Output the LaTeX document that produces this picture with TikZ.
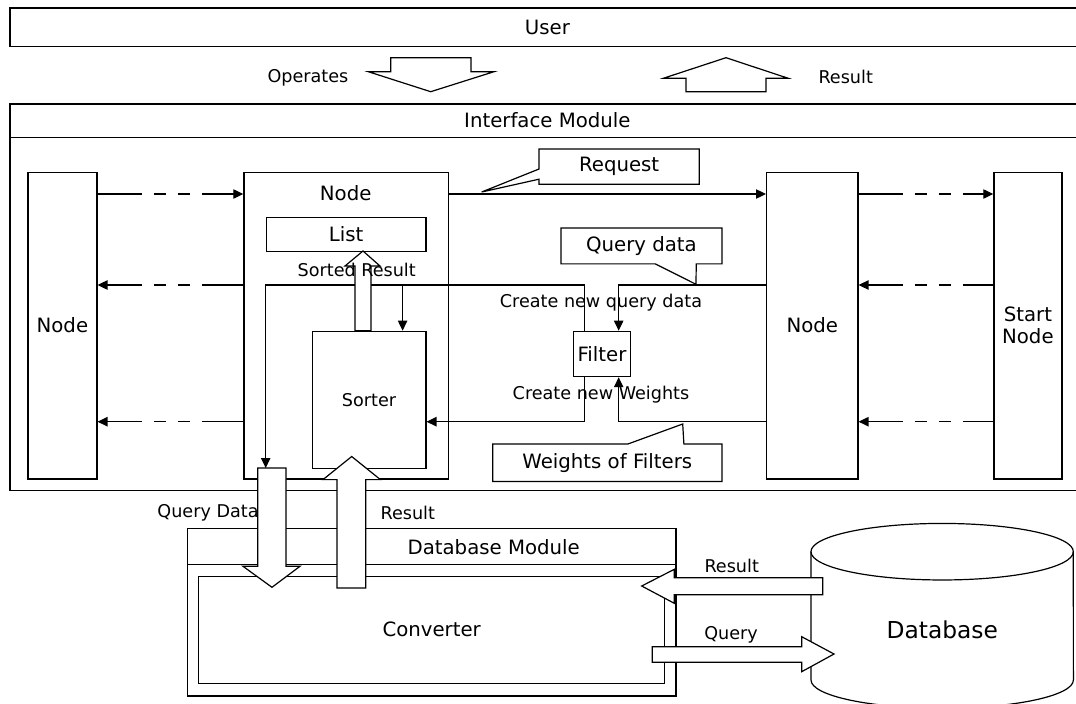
\documentclass[tikz,border=0pt]{standalone}
\usepackage{fontspec}
\setmainfont{DejaVu Sans}
\usetikzlibrary{calc,arrows.meta}
\newcommand{\boxtxt}{\fontsize{14.8}{16.7}\selectfont}
\newcommand{\linktxt}{\fontsize{13.2}{15.8}\selectfont}
\newcommand{\dbtxt}{\fontsize{17.5}{21}\selectfont}
\tikzstyle{rect} = [rectangle, draw=black, inner sep=0pt, text centered, anchor=north west, font=\boxtxt]
\tikzstyle{lbl} = [inner sep=0pt, font=\linktxt]
\tikzstyle{hollow} = [draw=black, fill=white]
\tikzstyle{link} = [-{Triangle[length=7.5pt,width=7pt]}]
\tikzstyle{dashR} = [link, dash pattern=on 33pt off 9pt on 9pt off 9pt on 9pt off 9pt on 300pt]
\tikzstyle{dashL} = [{Triangle[length=7.5pt,width=7pt]}-, dash pattern=on 26pt off 9pt on 9pt off 9pt on 9pt off 9pt on 300pt]

\begin{document}
\begin{tikzpicture}[x=0.75pt, y=-0.75pt, line width=0.9pt]
            \useasboundingbox (0,0) rectangle (1076,704);
            \clip (0,0) rectangle (1076,704);

            % user and interface module
            \node (user) [rect, minimum width=806.25pt, minimum height=29pt] at (9.3,7.3) {User};
            \node (ifframe) [rect, minimum width=806.25pt, minimum height=290pt] at (9.3,103.3) {};
            \node (iftitle) [rect, minimum width=806.25pt, minimum height=25pt] at (9.3,103.3) {Interface Module};

            \draw[hollow] (390.7,57.7) -- (471,57.7) -- (471,71.7) -- (494,71.7) -- (430.7,91.7) -- (368.3,71.7) -- (390.7,71.7) -- cycle;
            \node (oplbl) [lbl] at (308,77.3) {Operates};
            \draw[hollow] (726,57.7) -- (788.3,78.3) -- (766,78.3) -- (766,91.7) -- (686,91.7) -- (686,78.3) -- (663.3,78.3) -- cycle;
            \node (uresult) [lbl] at (845.7,76.7) {Result};

            % nodes
            \node (nodeL) [rect, minimum width=51.75pt, minimum height=230pt] at (27.3,171.7) {Node};
            \node (nodeM) [rect, minimum width=153.5pt, minimum height=230pt] at (243.3,171.7) {};
            \node (nodeMtxt) [font=\boxtxt, inner sep=0pt] at (345.7,193) {Node};
            \node (list) [rect, minimum width=119.7pt, minimum height=25.5pt] at (265.7,217) {List};
            \node (sorter) [rect, font=\linktxt, minimum width=85.35pt, minimum height=103pt] at (311.5,330.7) {Sorter};
            \node (filter) [rect, minimum width=43pt, minimum height=34pt] at (572.7,330.7) {Filter};
            \node (nodeR) [rect, minimum width=68.5pt, minimum height=230pt] at (766,171.7) {Node};
            \node (start) [rect, align=center, minimum width=51pt, minimum height=230pt] at (993.3,171.7) {Start\\Node};

            \coordinate (lvlA) at (0,194);
            \coordinate (lvlB) at (0,285);
            \coordinate (lvlC) at (0,421.7);

            \draw[dashR] (nodeL.east |- lvlA) -- (nodeM.west |- lvlA);
            \draw[dashL] (nodeL.east |- lvlB) -- (nodeM.west |- lvlB);
            \draw[dashL] (nodeL.east |- lvlC) -- (nodeM.west |- lvlC);
            \draw[dashR] (nodeR.east |- lvlA) -- (start.west |- lvlA);
            \draw[dashL] (nodeR.east |- lvlB) -- (start.west |- lvlB);
            \draw[dashL] (nodeR.east |- lvlC) -- (start.west |- lvlC);

            % links round the filter
            \coordinate (fltqin) at ($(filter.north)+(16.7,0)$);
            \coordinate (fltqout) at ($(filter.north)+(-17.3,0)$);
            \coordinate (fltwin) at ($(filter.south)+(16.7,0)$);
            \coordinate (fltwout) at ($(filter.south)+(-17.3,0)$);
            \coordinate (sortin) at ($(sorter.north)+(33.6,0)$);
            \coordinate (qdin) at (265.7,468);

            \draw[link] (nodeM.east |- lvlA) -- (nodeR.west |- lvlA);
            \draw[link] (nodeR.west |- lvlB) -| (fltqin);
            \draw[link] (fltqout) |- (qdin |- lvlB) -- (qdin);
            \draw[link] (sortin |- lvlB) -- (sortin);
            \draw[link] (fltwout) |- (sorter.east |- lvlC);
            \draw[link] (nodeR.west |- lvlC) -| (fltwin);

            \draw[hollow] (363,251) -- (380,266) -- (371,266) -- (371,330.7) -- (355,330.7) -- (355,266) -- (345,266) -- cycle;
            \node (sortlbl) [lbl] at (356.7,270) {Sorted Result};
            \node (qnewlbl) [lbl] at (601,303) {Create new query data};
            \node (wnewlbl) [lbl] at (601,395) {Create new Weights};

            % callouts
            \node (req) [rect, draw=none, minimum width=119.25pt, minimum height=25.5pt] at (539,149) {Request};
            \coordinate (reqtip) at (481.7,192);
            \draw (req.north west) -- (req.north east) -- (req.south east) -- (req.south west) -- ($(req.south west)+(0,-5)$) -- (reqtip) -- ($(req.north west)+(0,20)$) -- cycle;

            \node (qdata) [rect, draw=none, minimum width=119.8pt, minimum height=26pt] at (561,228) {Query data};
            \coordinate (qdatatip) at (696,284.3);
            \draw (qdata.north west) -- (qdata.north east) -- (qdata.south east) -- ($(qdata.south east)+(-25.7,0)$) -- (qdatatip) -- ($(qdata.south east)+(-66.7,0)$) -- (qdata.south west) -- cycle;

            \node (wts) [rect, draw=none, minimum width=171pt, minimum height=27.2pt] at (492.7,444) {Weights of Filters};
            \coordinate (wtstip) at (682.7,424);
            \draw (wts.south west) -- (wts.north west) -- ($(wts.north east)+(-94,0)$) -- (wtstip) -- ($(wts.north east)+(-38,0)$) -- (wts.north east) -- (wts.south east) -- cycle;

            % database module
            \node (dbframe) [rect, minimum width=366.5pt, minimum height=125.5pt] at (186.8,528) {};
            \node (dbtitle) [rect, minimum width=366.5pt, minimum height=26.85pt] at (186.8,528) {};
            \node (dbtitletxt) [font=\boxtxt, inner sep=0pt] at (493.7,547) {Database Module};
            \node (conv) [rect, minimum width=349.65pt, minimum height=80.25pt] at (198,575.7) {Converter};

            % database
            \draw (811,551.7) -- (811,680) arc[start angle=180, end angle=360, x radius=98.4pt, y radius=21.2pt] -- (1073.3,551.7);
            \draw (942.15,551.7) ellipse [x radius=98.4pt, y radius=21.2pt];
            \node (db) [font=\dbtxt, inner sep=0pt] at (942.3,629.3) {Database};

            % data flow arrows
            \draw[hollow] (257.7,468) -- (286,468) -- (286,566.3) -- (300,566.3) -- (272,587.3) -- (243,566.3) -- (257.7,566.3) -- cycle;
            \draw[hollow] (351.7,456.5) -- (380.4,479.6) -- (365.7,479.6) -- (365.7,588) -- (337,588) -- (337,479.6) -- (323,479.6) -- cycle;
            \draw[hollow] (641.7,586) -- (674.3,569.3) -- (674.3,577.7) -- (822.7,577.7) -- (822.7,594.7) -- (674.3,594.7) -- (674.3,603.3) -- cycle;
            \draw[hollow] (652.3,646.7) -- (801.7,646.7) -- (801.7,636.7) -- (834,654) -- (801.7,671.7) -- (801.7,662.3) -- (652.3,662.3) -- cycle;

            \node (qdlbl) [lbl] at (208,512.6) {Query Data};
            \node (rdlbl) [lbl] at (407.8,512.6) {Result};
            \node (dbres) [lbl] at (731.7,565.7) {Result};
            \node (dbqry) [lbl] at (731,634.3) {Query};
        \end{tikzpicture}
\end{document}
